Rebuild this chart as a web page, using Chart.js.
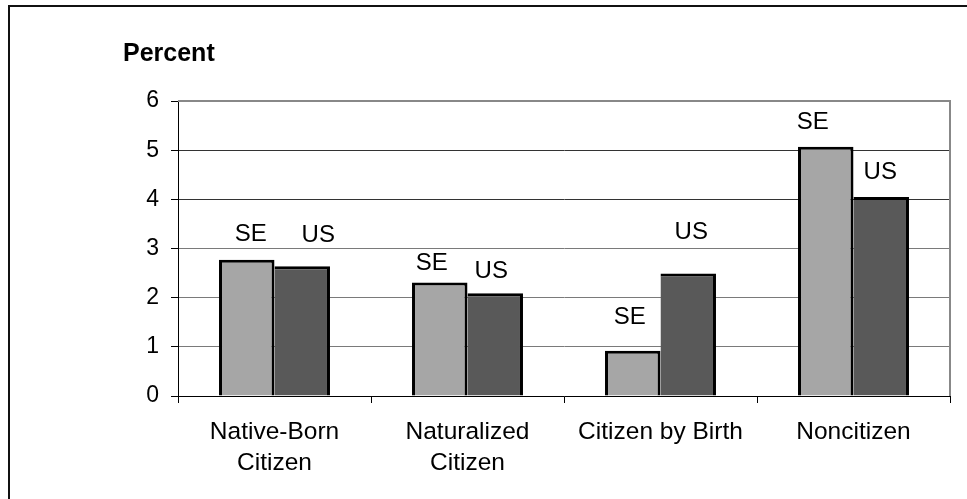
<!DOCTYPE html>
<html lang="en">
<head>
    <meta charset="UTF-8">
    <script src="https://cdn.jsdelivr.net/npm/chart.js@4.4.0/dist/chart.umd.min.js"></script>
    <style>
        html, body {
            margin: 0;
            padding: 0;
            background: #fff;
        }

        .chart-box {
            position: relative;
            width: 967px;
            height: 499px;
        }
    </style>
    <title>Percent by Citizenship</title>
</head>
<body>
    <div class="chart-box">
        <canvas id="chartCanvas"></canvas>
    </div>

    <script>
        // values
        const categories = [['Native-Born', 'Citizen'], ['Naturalized', 'Citizen'], 'Citizen by Birth', 'Noncitizen'];
        const seriesNames = ['SE', 'US'];
        const seValues = [2.77, 2.31, 0.92, 5.07];
        const usValues = [2.64, 2.09, 2.49, 4.05];
        const yTicks = [0, 1, 2, 3, 4, 5, 6];

        // where each SE / US label sits relative to the top of its bar (px)
        const labelShift = [
            [[4, -25], [16, -31]],
            [[-8, -19], [-4, -22]],
            [[-3, -33], [3, -41]],
            [[-13, -24], [-1, -25]]
        ];

        const font = 'Liberation Sans, Arial, sans-serif';

        const framePlugin = {
            id: 'frame',
            beforeDraw(chart) {
                const c = chart.ctx;
                c.save();
                c.fillStyle = '#fff';
                c.fillRect(0, 0, chart.width, chart.height);
                // outer frame, left and top only
                c.strokeStyle = '#111';
                c.lineWidth = 2;
                c.beginPath();
                c.moveTo(9, chart.height);
                c.lineTo(9, 6);
                c.lineTo(chart.width, 6);
                c.stroke();
                c.restore();
            },
            afterDatasetsDraw(chart) {
                const c = chart.ctx;
                const area = chart.chartArea;
                c.save();
                // gray plot border on top and right
                c.strokeStyle = '#888';
                c.lineWidth = 2;
                c.beginPath();
                c.moveTo(area.left, area.top);
                c.lineTo(area.right, area.top);
                c.lineTo(area.right, area.bottom);
                c.stroke();

                // series labels above the bars
                c.fillStyle = '#000';
                c.font = '24px ' + font;
                c.textAlign = 'center';
                c.textBaseline = 'middle';
                chart.data.datasets.forEach((ds, d) => {
                    chart.getDatasetMeta(d).data.forEach((bar, i) => {
                        const s = labelShift[i][d];
                        c.fillText(ds.label, bar.x + s[0], bar.y + s[1]);
                    });
                });

                // axis title
                c.font = 'bold 25px ' + font;
                c.textAlign = 'left';
                c.textBaseline = 'alphabetic';
                c.fillText('Percent', 123, 61);
                c.restore();
            }
        };

        const ctx = document.getElementById('chartCanvas').getContext('2d');
        const chart = new Chart(ctx, {
            type: 'bar',
            data: {
                labels: categories,
                datasets: [
                    {
                        label: seriesNames[0],
                        data: seValues,
                        backgroundColor: '#a6a6a6',
                        borderColor: '#000',
                        borderWidth: { top: 3, left: 3, right: 3, bottom: 0 },
                        borderSkipped: false
                    },
                    {
                        label: seriesNames[1],
                        data: usValues,
                        backgroundColor: '#595959',
                        borderColor: '#000',
                        borderWidth: { top: 3, left: 0, right: 3, bottom: 0 },
                        borderSkipped: false
                    }
                ]
            },
            options: {
                responsive: true,
                maintainAspectRatio: false,
                animation: false,
                categoryPercentage: 0.575,
                barPercentage: 1.0,
                layout: {
                    padding: { top: 101, right: 17, left: 0, bottom: 0 }
                },
                plugins: {
                    legend: { display: false },
                    tooltip: { enabled: false }
                },
                scales: {
                    x: {
                        offset: true,
                        grid: {
                            display: true,
                            offset: true,
                            drawOnChartArea: false,
                            tickLength: 7,
                            tickColor: '#000'
                        },
                        border: { color: '#000', width: 1 },
                        ticks: {
                            color: '#000',
                            font: { family: font, size: 24.5, lineHeight: 1.27 },
                            maxRotation: 0,
                            autoSkip: false,
                            padding: 14
                        },
                        afterFit(scale) {
                            scale.height = 103;
                        }
                    },
                    y: {
                        min: 0,
                        max: 6,
                        afterBuildTicks(scale) {
                            scale.ticks = yTicks.map(v => ({ value: v }));
                        },
                        grid: {
                            color: (c) => (c.tick && c.tick.value >= 4 ? '#333' : '#7a7a7a'),
                            lineWidth: 1,
                            tickLength: 7,
                            tickColor: '#000'
                        },
                        border: { color: '#000', width: 1 },
                        ticks: {
                            color: '#000',
                            font: { family: font, size: 23 },
                            padding: 12
                        },
                        afterFit(scale) {
                            scale.width = 178;
                        }
                    }
                }
            },
            plugins: [framePlugin]
        });
    </script>
</body>
</html>
